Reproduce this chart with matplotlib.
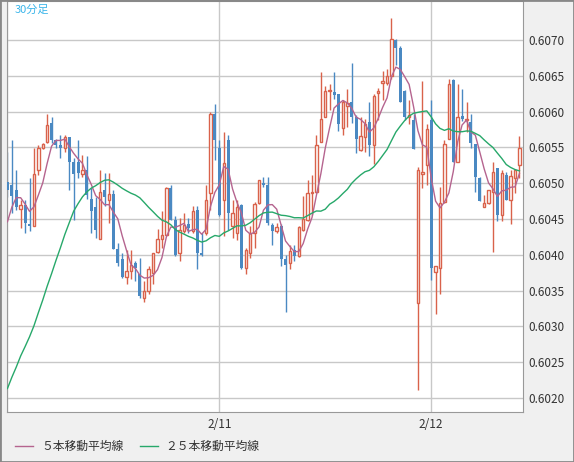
import numpy as np
import matplotlib
matplotlib.use("Agg")
import matplotlib.pyplot as plt

opens = [.60501,.60497,.60491,.60464,.60470,.60443,.60440,.60518,.60549,.60557,.60584,.60560,.60553,.60549,.60564,.60529,.60529,.60513,.60518,.60478,
 .60467,.60422,.60491,.60477,.60485,.60408,.60394,.60369,.60377,.60388,.60373,.60340,.60350,.60375,.60404,.60422,.60427,.60493,.60449,.60403,
 .60433,.60443,.60433,.60462,.60403,.60431,.60486,.60596,.60549,.60477,.60560,.60440,.60431,.60470,.60381,.60402,.60431,.60472,.60500,.60498,
 .60441,.60433,.60440,.60394,.60389,.60406,.60398,.60435,.60449,.60486,.60487,.60558,.60593,.60629,.60627,.60624,.60577,.60607,.60613,.60592,
 .60546,.60564,.60586,.60553,.60626,.60640,.60640,.60649,.60700,.60688,.60629,.60592,.60588,.60333,.60513,.60525,.60588,.60376,.60382,.60474,
 .60562,.60644,.60530,.60594,.60588,.60586,.60555,.60507,.60467,.60472,.60488,.60521,.60455,.60511,.60477,.60507,.60525]
closes = [.60490,.60482,.60467,.60469,.60445,.60440,.60513,.60549,.60555,.60581,.60560,.60553,.60549,.60564,.60529,.60513,.60514,.60518,.60484,.60461,
 .60435,.60488,.60481,.60485,.60408,.60389,.60369,.60377,.60386,.60382,.60343,.60349,.60380,.60402,.60422,.60427,.60493,.60449,.60400,.60435,
 .60442,.60437,.60461,.60403,.60400,.60477,.60596,.60560,.60455,.60528,.60458,.60458,.60467,.60381,.60407,.60431,.60471,.60504,.60498,.60444,
 .60433,.60439,.60394,.60386,.60405,.60398,.60439,.60450,.60486,.60487,.60553,.60589,.60629,.60630,.60623,.60582,.60613,.60612,.60592,.60562,
 .60566,.60583,.60553,.60621,.60629,.60643,.60649,.60701,.60688,.60613,.60592,.60595,.60547,.60519,.60515,.60575,.60381,.60384,.60472,.60555,
 .60639,.60530,.60592,.60590,.60589,.60556,.60508,.60475,.60472,.60490,.60515,.60455,.60514,.60477,.60510,.60518,.60549]
highs = [.60544,.60560,.60518,.60477,.60477,.60507,.60549,.60553,.60556,.60597,.60592,.60561,.60567,.60567,.60565,.60535,.60560,.60539,.60538,.60493,
 .60481,.60518,.60514,.60514,.60491,.60417,.60403,.60407,.60407,.60391,.60396,.60363,.60384,.60403,.60436,.60461,.60494,.60498,.60454,.60451,
 .60458,.60451,.60468,.60468,.60431,.60497,.60599,.60610,.60560,.60572,.60567,.60477,.60477,.60471,.60410,.60440,.60474,.60504,.60509,.60509,
 .60445,.60445,.60443,.60400,.60414,.60413,.60440,.60482,.60505,.60511,.60567,.60655,.60635,.60639,.60655,.60625,.60616,.60631,.60668,.60595,
 .60592,.60589,.60613,.60625,.60633,.60656,.60660,.60731,.60701,.60692,.60630,.60616,.60597,.60523,.60643,.60583,.60616,.60384,.60495,.60560,
 .60646,.60646,.60639,.60631,.60613,.60597,.60555,.60508,.60484,.60490,.60530,.60521,.60518,.60516,.60518,.60519,.60566]
lows = [.60481,.60458,.60463,.60437,.60431,.60433,.60440,.60512,.60548,.60556,.60556,.60549,.60535,.60544,.60490,.60449,.60507,.60509,.60478,.60431,
 .60424,.60422,.60468,.60444,.60408,.60384,.60367,.60359,.60366,.60363,.60340,.60334,.60345,.60359,.60402,.60409,.60427,.60448,.60398,.60391,
 .60431,.60431,.60431,.60380,.60398,.60428,.60463,.60532,.60454,.60426,.60435,.60424,.60421,.60380,.60373,.60396,.60410,.60471,.60495,.60442,
 .60413,.60431,.60384,.60320,.60380,.60391,.60397,.60433,.60447,.60456,.60486,.60558,.60592,.60602,.60618,.60573,.60567,.60579,.60584,.60542,
 .60545,.60543,.60538,.60526,.60588,.60616,.60637,.60646,.60665,.60613,.60588,.60583,.60547,.60211,.60493,.60498,.60365,.60317,.60345,.60472,
 .60561,.60530,.60530,.60587,.60571,.60549,.60488,.60475,.60467,.60471,.60404,.60447,.60447,.60476,.60443,.60486,.60507]
prior_closes = [0.6009,0.6011,0.6008,0.6012,0.6010,0.6013,0.6009,0.6011,0.6010,0.6012,0.6009,0.6011,0.6010,0.6012,0.6011,
 0.6025,0.6028,0.6031,0.6033,0.6035,0.6038,0.6040,0.6047,0.6049]
date_labels = ["2/11", "2/12"]
date_idx = [48, 96]
y_ticks = [0.6020,0.6025,0.6030,0.6035,0.6040,0.6045,0.6050,0.6055,0.6060,0.6065,0.6070]

plt.rcParams['font.family'] = ['Noto Sans CJK JP', 'DejaVu Sans']
fig = plt.figure(figsize=(5.74, 4.62), dpi=100, facecolor='#f0f0f0')
ax = fig.add_axes([7/574, 50/462, 516/574, 411/462])
ax.set_facecolor('white')

o = np.array(opens); c = np.array(closes); h = np.array(highs); l = np.array(lows)
x = np.arange(len(o))
allc = np.concatenate([prior_closes, closes])
def ma(n):
    return np.array([allc[i+len(prior_closes)-n+1:i+len(prior_closes)+1].mean() for i in range(len(c))])
ma5 = ma(5); ma25 = ma(25)

up_col = '#d9624b'; dn_col = '#4a89c2'
for i in range(len(o)):
    col = up_col if c[i] >= o[i] else dn_col
    ax.vlines(x[i], l[i], h[i], color=col, lw=1, zorder=2)
    lo, hi = min(o[i], c[i]), max(o[i], c[i])
    hgt = max(hi - lo, 0.000015)
    if c[i] >= o[i]:
        ax.bar(x[i], hgt, bottom=lo, width=0.55, facecolor='white', edgecolor=up_col, lw=1, zorder=3)
    else:
        ax.bar(x[i], hgt, bottom=lo, width=0.68, facecolor=dn_col, edgecolor=dn_col, lw=0, zorder=3)

ax.plot(x, ma5, color='#b5648f', lw=1, zorder=4)
ax.plot(x, ma25, color='#27a86a', lw=1, zorder=4)

ax.set_xlim(-0.1, 116.8)
ax.set_ylim(0.601804, 0.607543)
ax.set_yticks(y_ticks)
ax.set_yticklabels([f"{v:.4f}" for v in y_ticks])
ax.yaxis.tick_right()
ax.set_xticks(date_idx)
ax.set_xticklabels(date_labels)
ax.tick_params(length=0, labelsize=8.5, colors='#333333', pad=4)
ax.grid(True, color='#c8c8c8', lw=1)
ax.axvline(0, color='#c8c8c8', lw=1)
for s in ax.spines.values():
    s.set_color('#999999')
ax.text(0.015, 0.99, "30分足", transform=ax.transAxes, color='#3ab5ea', fontsize=8, va='top')

fig.lines.append(plt.Line2D([15/574, 33/574], [16/462, 16/462], color='#b5648f', lw=1, transform=fig.transFigure))
fig.text(41/574, 16/462, "５本移動平均線", fontsize=8.5, va='center', color='#333333')
fig.lines.append(plt.Line2D([140/574, 158/574], [16/462, 16/462], color='#27a86a', lw=1, transform=fig.transFigure))
fig.text(165/574, 16/462, "２５本移動平均線", fontsize=8.5, va='center', color='#333333')
fig.patches.append(plt.Rectangle((0, 0), 1, 1, transform=fig.transFigure, fill=False, edgecolor='#888888', lw=2))
fig.savefig("out.png", dpi=100, facecolor=fig.get_facecolor())
